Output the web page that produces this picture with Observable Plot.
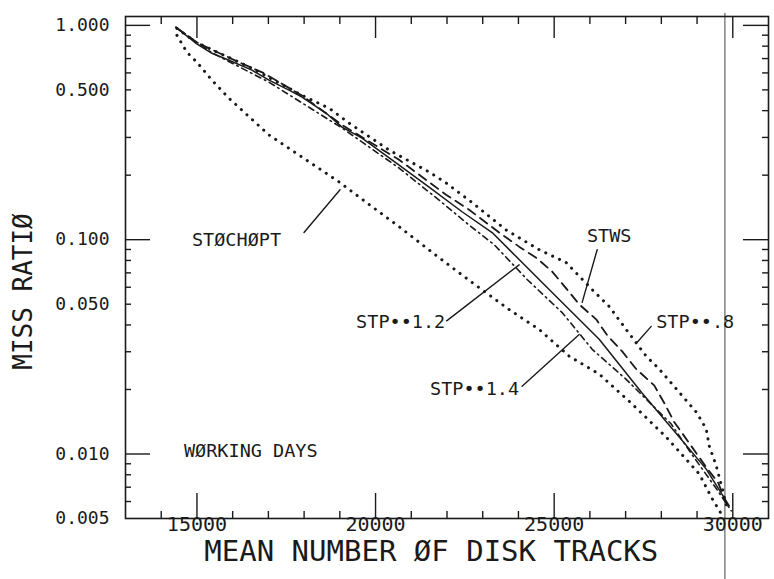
<!DOCTYPE html>
<html><head><meta charset="utf-8">
<script src="https://cdn.jsdelivr.net/npm/d3@7"></script>
<script src="https://cdn.jsdelivr.net/npm/@observablehq/plot@0.6"></script>
<style>body{margin:0;background:#fff;} svg{display:block;}</style>
</head><body><div id="chart"></div>
<script>
// ---- data ----
const stp12X = [14412,14972,15420,15896,16541,17017,17577,17941,18613,19061,19622,20574,21498,22422,23263,24103,25056,26260,27465,28305,29257,29901];
const stp12Y = [0.979,0.825,0.741,0.687,0.618,0.555,0.499,0.463,0.390,0.335,0.298,0.228,0.176,0.135,0.108,0.0782,0.0543,0.0343,0.0192,0.0131,0.0085,0.00573];

const stwsX = [14412,15000,16176,16877,17941,19061,20658,21974,22619,23459,24019,24495,24944,25364,25700,26176,26484,26905,27297,27801,28081,28361,28837,29229,29593,29733,29901];
const stwsY = [0.979,0.83,0.673,0.598,0.47,0.343,0.236,0.162,0.138,0.108,0.0928,0.0824,0.071,0.0585,0.0499,0.0425,0.0358,0.0301,0.0249,0.0209,0.0173,0.0141,0.0109,0.0088,0.00733,0.00638,0.00555];

const stp14X = [14412,15420,17017,19061,20658,21778,22619,23319,24243,25224,26064,27016,27857,28277,28865,29537,29957];
const stp14Y = [0.979,0.745,0.543,0.332,0.216,0.153,0.117,0.0948,0.0652,0.0457,0.0308,0.0223,0.0162,0.0138,0.0099,0.0069,0.00543];

const stp08X = [14440,14972,16541,17941,18697,19258,20378,21498,21974,22703,23655,24580,25336,26064,26540,27016,27577,27941,28501,28977,29257,29341,29537,29705,29845];
const stp08Y = [0.968,0.834,0.631,0.472,0.411,0.350,0.262,0.207,0.184,0.149,0.111,0.0898,0.0782,0.0585,0.0488,0.0381,0.0286,0.0249,0.0194,0.0157,0.0131,0.0109,0.0088,0.0069,0.00555];

const stochoptX = [14440,14720,15000,15420,15896,17017,18053,18977,19818,20658,21778,22703,23739,24580,25420,26260,27184,28136,29061,29425,29677];
const stochoptY = [0.899,0.749,0.673,0.555,0.457,0.308,0.236,0.186,0.146,0.115,0.0824,0.0631,0.0472,0.0381,0.0286,0.0236,0.0171,0.0120,0.00807,0.00618,0.00526];

const xTickLabels = [15000, 20000, 25000, 30000];
const xMinorTicks = [14000,16000,17000,18000,19000,21000,22000,23000,24000,26000,27000,28000,29000];
const yTickLabels = [1, 0.5, 0.1, 0.05, 0.01, 0.005];
const yMajorTicks = [1, 0.1, 0.01];
const yMinorTicks = [0.9,0.8,0.7,0.6,0.5,0.4,0.3,0.2,0.09,0.08,0.07,0.06,0.05,0.04,0.03,0.02,0.009,0.008,0.007,0.006];

const labelText = ["STØCHØPT", "STWS", "STP••1.2", "STP••1.4", "STP••.8", "WØRKING DAYS"];
const labelX = [14860, 26540, 21950, 24019, 27857, 14636];
const labelY = [0.100, 0.1034, 0.0411, 0.0201, 0.0411, 0.0103];
const labelAnchor = ["start", "middle", "end", "end", "start", "start"];

const arrowX1 = [17997, 26204, 21990, 24103, 27717];
const arrowY1 = [0.108, 0.0898, 0.0418, 0.0207, 0.0394];
const arrowX2 = [19006, 25784, 24019, 25700, 27325];
const arrowY2 = [0.171, 0.0510, 0.0763, 0.0361, 0.0332];
const arrowBend = [-12, 12, 18, 15, -10];

const artifactX = [29780];

// ---- build ----
const toRows = (xs, ys) => xs.map((x, i) => ({x, y: ys[i]}));
const labels = labelText.map((t, i) => ({t, x: labelX[i], y: labelY[i], a: labelAnchor[i]}));
const arrows = arrowX1.map((x1, i) => ({x1, y1: arrowY1[i], x2: arrowX2[i], y2: arrowY2[i], b: arrowBend[i]}));

const W = 774, H = 579, mL = 125, mR = 6, mT = 16, mB = 61;
const FW = W - mL - mR, FH = H - mT - mB;
const font = "DejaVu Sans Mono";
const ink = "#1a1a1a";

const dotted = {stroke: ink, strokeWidth: 3, strokeDasharray: "0.1,7.5", strokeLinecap: "round"};
const labelMark = anchor => Plot.text(labels, {filter: d => d.a === anchor, x: "x", y: "y", text: "t", textAnchor: anchor, fontSize: 18.5, fill: ink});

const chart = Plot.plot({
  width: W, height: H,
  marginLeft: mL, marginRight: mR, marginTop: mT, marginBottom: mB,
  style: {fontFamily: font, background: "#fff", color: ink},
  x: {type: "linear", domain: [13000, 31000], axis: null},
  y: {type: "log", domain: [0.005, 1.1], axis: null},
  marks: [
    Plot.ruleX(artifactX, {stroke: "#444", strokeWidth: 1, insetTop: -3, insetBottom: -mB}),
    Plot.frame({stroke: ink, strokeWidth: 1.6}),
    // bottom ticks
    Plot.ruleX(xTickLabels, {stroke: ink, strokeWidth: 1.4, insetTop: FH - 25}),
    Plot.ruleX(xMinorTicks, {stroke: ink, strokeWidth: 1.4, insetTop: FH - 7}),
    // top ticks
    Plot.ruleX(xTickLabels, {stroke: ink, strokeWidth: 1.4, insetBottom: FH - 22}),
    Plot.ruleX(xMinorTicks, {stroke: ink, strokeWidth: 1.4, insetBottom: FH - 8}),
    // left ticks
    Plot.ruleY(yMajorTicks, {stroke: ink, strokeWidth: 1.4, insetRight: FW - 25}),
    Plot.ruleY(yMinorTicks, {stroke: ink, strokeWidth: 1.4, insetRight: FW - 6}),
    // right ticks
    Plot.ruleY(yMajorTicks, {stroke: ink, strokeWidth: 1.4, insetLeft: FW - 25}),
    Plot.ruleY(yMinorTicks, {stroke: ink, strokeWidth: 1.4, insetLeft: FW - 6}),
    // tick labels
    Plot.text(xTickLabels, {x: d => d, frameAnchor: "bottom", dy: 12, text: d => String(d), fontSize: 20, fill: ink, textAnchor: "middle"}),
    Plot.text(yTickLabels, {y: d => d, frameAnchor: "left", dx: -16, text: d => d3.format(".3f")(d), fontSize: 18, fill: ink, textAnchor: "end"}),
    // axis titles
    Plot.text(["MEAN NUMBER ØF DISK TRACKS"], {x: 21560, frameAnchor: "bottom", dy: 42, text: d => d, fontSize: 29, fill: ink, textAnchor: "middle"}),
    Plot.text(["MISS RATIØ"], {y: 0.0573, frameAnchor: "left", dx: -102, rotate: -90, text: d => d, fontSize: 26, fill: ink, textAnchor: "middle"}),
    // curves
    Plot.line(toRows(stochoptX, stochoptY), {x: "x", y: "y", ...dotted}),
    Plot.line(toRows(stp08X, stp08Y), {x: "x", y: "y", ...dotted}),
    Plot.line(toRows(stwsX, stwsY), {x: "x", y: "y", stroke: ink, strokeWidth: 1.8, strokeDasharray: "9,6"}),
    Plot.line(toRows(stp14X, stp14Y), {x: "x", y: "y", stroke: ink, strokeWidth: 1.6, strokeDasharray: "6,4,1.5,4"}),
    Plot.line(toRows(stp12X, stp12Y), {x: "x", y: "y", stroke: ink, strokeWidth: 1.5}),
    // annotations
    Plot.arrow(arrows, {x1: "x1", y1: "y1", x2: "x2", y2: "y2", bend: d => d.b, headLength: 5, stroke: ink, strokeWidth: 1.4}),
    labelMark("start"),
    labelMark("middle"),
    labelMark("end")
  ]
});
document.getElementById("chart").appendChild(chart);
</script>
</body></html>
